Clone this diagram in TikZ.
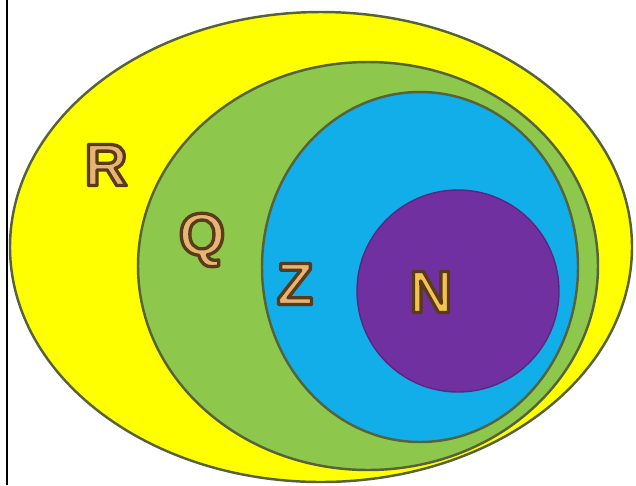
\documentclass[tikz,border=0pt]{standalone}
\usepackage{fontspec}
\setmainfont{Liberation Sans}

\definecolor{rfill}{HTML}{FFFF00}
\definecolor{qfill}{HTML}{8DC84C}
\definecolor{zfill}{HTML}{12AEEA}
\definecolor{nfill}{HTML}{7030A0}
\definecolor{rim}{HTML}{56633A}
\definecolor{letter}{HTML}{E6B474}
\definecolor{letterN}{HTML}{F4C24E}

% letter met donkerbruine rand (tekst-rendermodus 2: vullen en omlijnen)
\newcommand{\rimletter}[2]{\textcolor{#1}{%
  \special{pdf:literal direct 0.35 0.23 0.10 RG 1.9 w 1 j 2 Tr}#2%
  \special{pdf:literal direct 0 Tr}}}

\begin{document}
\begin{tikzpicture}[x=0.02cm, y=-0.02cm]
  \tikzset{
    setrim/.style={draw=rim, line width=1.4pt},
    setlabel/.style={font=\fontsize{34}{34}\selectfont\bfseries, inner sep=0pt}
  }
  \useasboundingbox (0,0) rectangle (636,485);

  % rand links
  \coordinate (top) at (7,0);
  \coordinate (bot) at (7,485);
  \draw[line width=1.2pt] (top) -- (bot);

  % geneste verzamelingen
  \filldraw[setrim, fill=rfill] (321,247) ellipse [x radius=311, y radius=235];
  \filldraw[setrim, fill=qfill] (368,266) ellipse [x radius=230, y radius=204];
  \filldraw[setrim, fill=zfill] (420,267) ellipse [x radius=158, y radius=175];
  \filldraw[draw=nfill!80!black, line width=0.8pt, fill=nfill] (458,291) ellipse [x radius=101, y radius=101];

  % letters
  \node[setlabel] (lR) at (106,165) {\rimletter{letter}{R}};
  \node[setlabel] (lQ) at (202,240) {\rimletter{letter}{Q}};
  \node[setlabel] (lZ) at (295,284) {\rimletter{letter}{Z}};
  \node[setlabel] (lN) at (431,292) {\rimletter{letterN}{N}};
\end{tikzpicture}
\end{document}
